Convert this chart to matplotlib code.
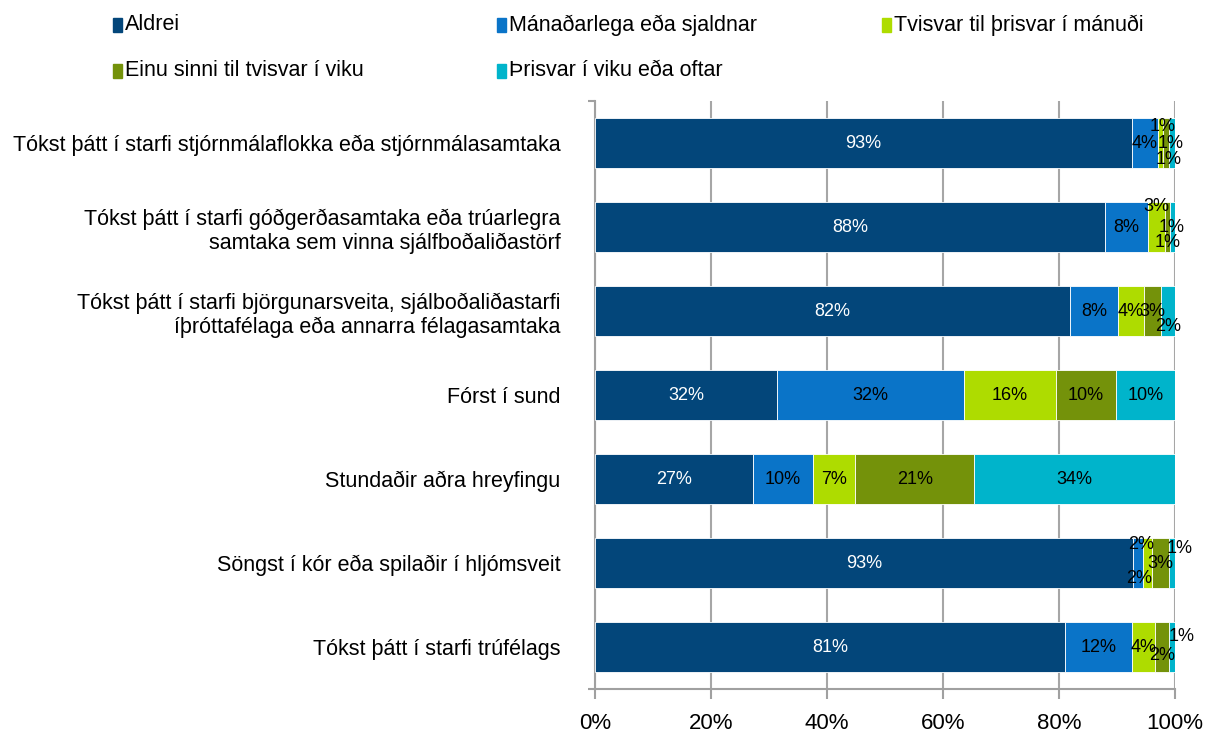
import numpy as np
import matplotlib
matplotlib.use("Agg")
from matplotlib import pyplot as plt
from matplotlib.patches import Rectangle

plt.rcParams['font.family'] = ['Liberation Sans', 'DejaVu Sans']

# ---------------- data ----------------
categories = [
    "Tókst þátt í starfi stjórnmálaflokka eða stjórnmálasamtaka",
    "Tókst þátt í starfi góðgerðasamtaka eða trúarlegra\nsamtaka sem vinna sjálfboðaliðastörf",
    "Tókst þátt í starfi björgunarsveita, sjálboðaliðastarfi\níþróttafélaga eða annarra félagasamtaka",
    "Fórst í sund",
    "Stundaðir aðra hreyfingu",
    "Söngst í kór eða spilaðir í hljómsveit",
    "Tókst þátt í starfi trúfélags",
]
series_names = [
    "Aldrei",
    "Mánaðarlega eða sjaldnar",
    "Tvisvar til þrisvar í mánuði",
    "Einu sinni til tvisvar í viku",
    "Þrisvar í viku eða oftar",
]
aldrei      = [92.6, 87.9, 81.9, 31.4, 27.2, 92.8, 81.1]
manadarlega = [4.4, 7.4, 8.3, 32.2, 10.3, 1.7, 11.4]
tvisvar_man = [1.0, 2.9, 4.4, 15.9, 7.4, 1.6, 4.1]
einu_sinni  = [0.9, 0.9, 2.9, 10.3, 20.5, 2.9, 2.4]
thrisvar_vk = [1.1, 0.9, 2.5, 10.2, 34.6, 1.0, 1.0]
labels_pct = [
    [93, 4, 1, 1, 1],
    [88, 8, 3, 1, 1],
    [82, 8, 4, 3, 2],
    [32, 32, 16, 10, 10],
    [27, 10, 7, 21, 34],
    [93, 2, 2, 3, 1],
    [81, 12, 4, 2, 1],
]

colors = ['#03467A', '#0A74C8', '#AEDC00', '#74920A', '#00B4CB']
text_colors = ['white', 'black', 'black', 'black', 'black']

# label nudges (dx in %, dy in rows) where Excel staggered overlapping labels
nudges = {
    (0, 2): (0.3, -0.20), (0, 4): (-0.6, 0.20), (0, 3): (0.8, 0.0),
    (1, 2): (0.0, -0.24), (1, 3): (0.8, 0.0), (1, 4): (-0.8, 0.18),
    (2, 4): (0.0, 0.18),
    (5, 1): (0.5, -0.22), (5, 2): (-1.5, 0.19), (5, 4): (1.3, -0.17),
    (6, 3): (0.0, 0.10), (6, 4): (1.6, -0.13),
}

# ---------------- plot ----------------
fig = plt.figure(figsize=(12.1, 7.34), dpi=100)
ax = fig.add_axes([595 / 1210, 1 - 689 / 734, 580 / 1210, 588 / 734])

series = [aldrei, manadarlega, tvisvar_man, einu_sinni, thrisvar_vk]
y = np.arange(len(categories))
left = np.zeros(len(categories))
for k, vals in enumerate(series):
    vals = np.array(vals)
    ax.barh(y, vals, left=left, height=0.6, color=colors[k],
            edgecolor='white', linewidth=0.6, zorder=3, label=series_names[k])
    for i in range(len(categories)):
        dx, dy = nudges.get((i, k), (0, 0))
        ax.text(left[i] + vals[i] / 2 + dx, y[i] + dy,
                "%d%%" % labels_pct[i][k], ha='center', va='center',
                color=text_colors[k], fontsize=13, zorder=5)
    left = left + vals

ax.set_xlim(0, 100)
ax.set_ylim(6.5, -0.5)
ax.set_xticks(np.arange(0, 101, 20))
ax.set_xticklabels(["%d%%" % v for v in range(0, 101, 20)], fontsize=16)
ax.set_yticks(y)
ax.set_yticklabels(categories, fontsize=15.5)
ax.tick_params(axis='y', length=0, pad=25)
ax.tick_params(axis='x', length=7, width=1.5, color='#A0A0A0', pad=10)
ax.xaxis.grid(True, color='#A6A6A6', linewidth=1.5, zorder=0)
ax.set_axisbelow(True)
for s in ['top', 'right']:
    ax.spines[s].set_visible(False)
for s in ['left', 'bottom']:
    ax.spines[s].set_color('#A0A0A0')
    ax.spines[s].set_linewidth(1.5)
ax.set_yticks([-0.5, 6.5], minor=True)
ax.tick_params(axis='y', which='minor', length=5, width=1.5, color='#A0A0A0')

# legend, row-wise like Excel
legend_pos = [(113, 25), (497, 25), (882, 25), (113, 71), (497, 71)]
for k, (px, py) in enumerate(legend_pos):
    fig.patches.append(Rectangle((px / 1210, 1 - (py + 7) / 734), 9 / 1210, 14 / 734,
                                 transform=fig.transFigure, color=colors[k]))
    fig.text((px + 12) / 1210, 1 - py / 734, series_names[k],
             fontsize=15.5, va='center', ha='left')

fig.savefig("out.png", dpi=100)
